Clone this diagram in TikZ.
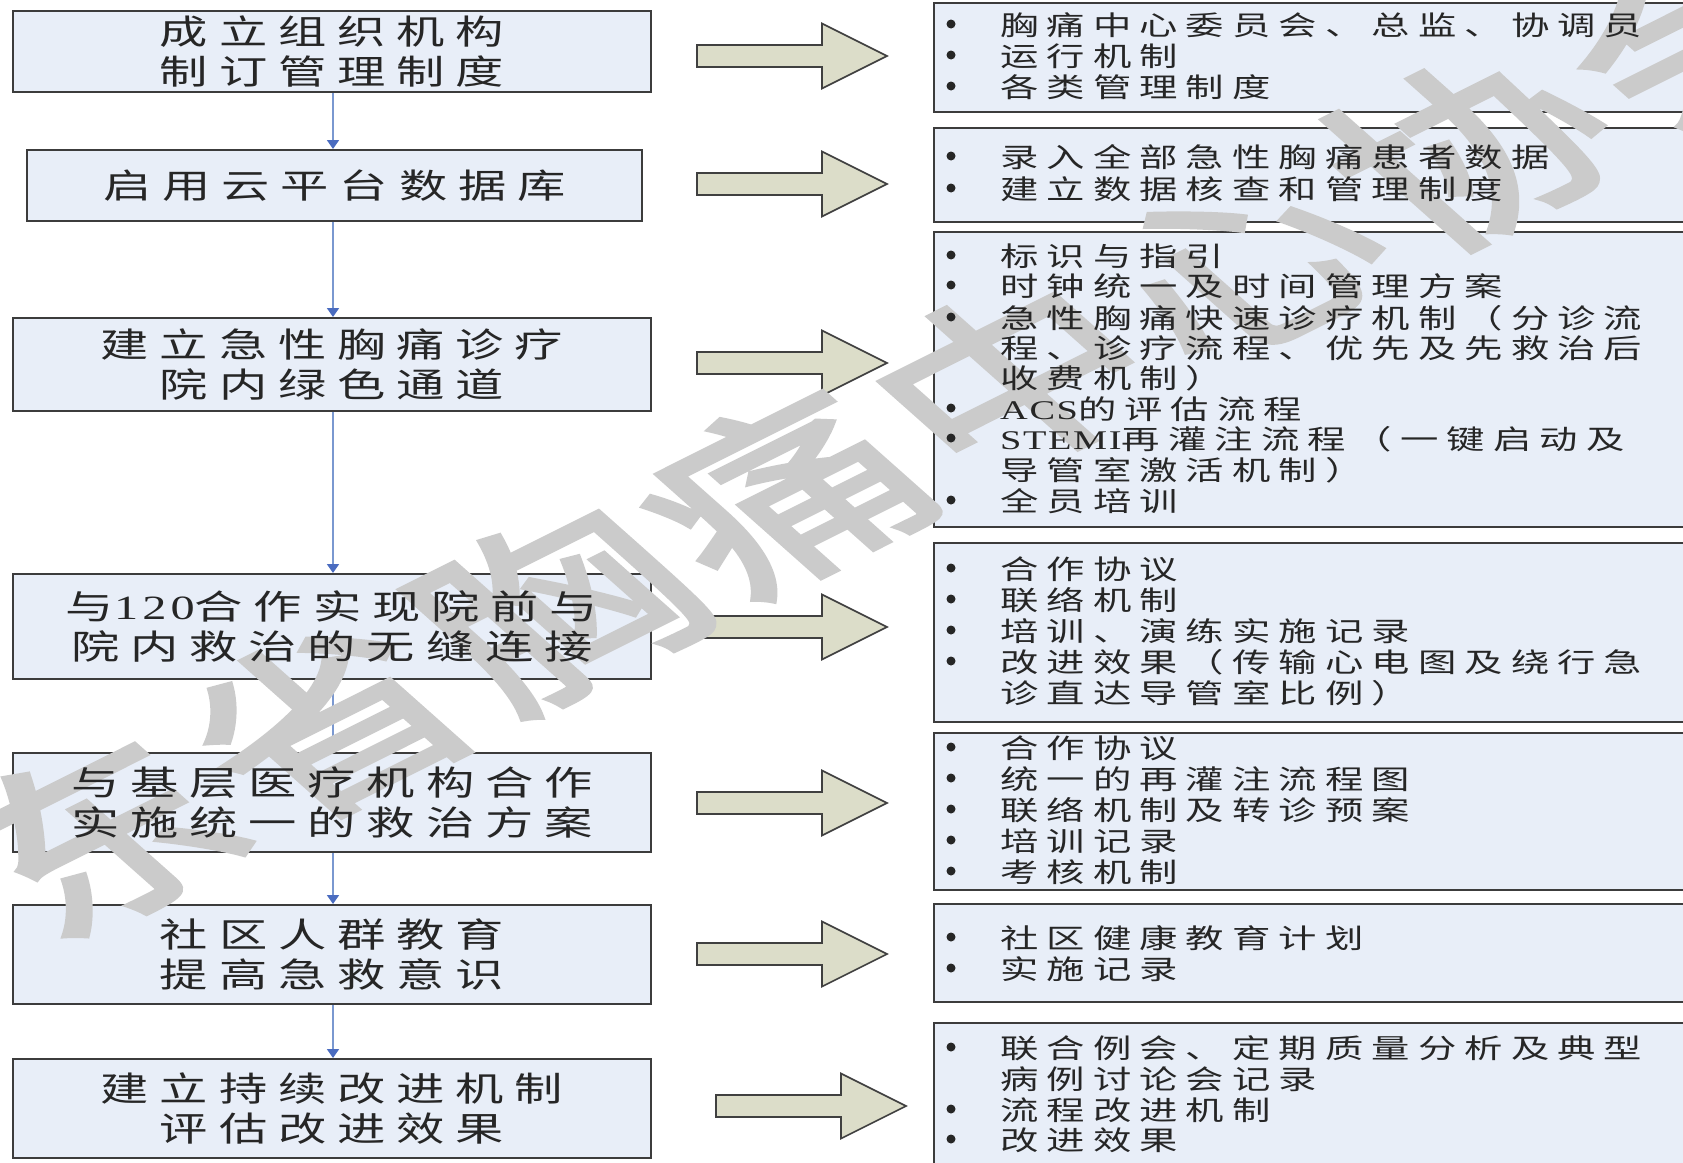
\documentclass[tikz,border=0pt]{standalone}
\usepackage{fontspec}
\usetikzlibrary{arrows.meta}
\setmainfont{Liberation Serif}
\newfontfamily\cjkL[FakeStretch=1.42,LetterSpace=32]{Noto Sans CJK SC}
\newfontfamily\cjkR[FakeStretch=1.42,LetterSpace=30]{Noto Sans CJK SC}
\newfontfamily\latL[FakeStretch=1.42,LetterSpace=12]{Liberation Serif}
\newfontfamily\latR[FakeStretch=1.42,LetterSpace=6]{Liberation Serif}
\newfontfamily\wmfont[LetterSpace=6,FakeBold=2.5]{Noto Sans CJK SC}
\definecolor{boxfill}{HTML}{E8EEF8}
\definecolor{boxdraw}{HTML}{3C3C3C}
\definecolor{arrowfill}{HTML}{DCDDC9}
\definecolor{arrowdraw}{HTML}{404040}
\definecolor{linkblue}{HTML}{7A98D0}
\definecolor{headblue}{HTML}{4A6CC0}
\definecolor{textc}{HTML}{262626}
\definecolor{wmgray}{HTML}{CBCBCB}
\newcommand\blockarrow[2]{%
  \draw[barrow] (#1,#2-11) -- (#1+125,#2-11) -- (#1+125,#2-32.5) -- (#1+190,#2)
    -- (#1+125,#2+32.5) -- (#1+125,#2+11) -- (#1,#2+11) -- cycle;}
\newcommand\rl[4]{%
  \node[rtext] (#1) at (1000,#2+8) {#4};
  \ifnum#3=1 \fill[textc] (951,#2) circle (4.5);\fi}
\begin{document}
\begin{tikzpicture}[x=1pt,y=-1pt,
  lbox/.style={draw=boxdraw, fill=boxfill, line width=2pt, inner sep=0pt},
  ltext/.style={align=center, inner sep=0pt, text=textc,
    font={\fontsize{34}{40}\selectfont\cjkL}},
  rbox/.style={draw=boxdraw, fill=boxfill, line width=2.2pt, anchor=north west,
    minimum width=790pt, inner sep=0pt},
  rtext/.style={anchor=west, inner sep=0pt, text height=0.75em, text depth=0pt,
    text=textc, font={\fontsize{27}{31}\selectfont\cjkR}},
  link/.style={draw=linkblue, line width=1.8pt,
    -{Triangle[width=12pt,length=9pt,color=headblue]}},
  barrow/.style={fill=arrowfill, draw=arrowdraw, line width=1.6pt, line join=miter},
  wm/.style={text=wmgray, inner sep=0pt, rotate=36.9, transform shape,
    font={\fontsize{180}{180}\selectfont\color{wmgray}\wmfont}}]
\useasboundingbox (0,0) rectangle (1683,1162);
\clip (0,0) rectangle (1683,1162);
\fill[white] (0,0) rectangle (1683,1162);

% left column boxes
\node[lbox, minimum width=638pt, minimum height=81pt] (b1) at (332,51.5) {};
\node[lbox, minimum width=615pt, minimum height=71pt] (b2) at (334.5,185.5) {};
\node[lbox, minimum width=638pt, minimum height=93pt] (b3) at (332,364.5) {};
\node[lbox, minimum width=638pt, minimum height=105pt] (b4) at (332,626.5) {};
\node[lbox, minimum width=638pt, minimum height=99pt] (b5) at (332,802.5) {};
\node[lbox, minimum width=638pt, minimum height=99pt] (b6) at (332,954.5) {};
\node[lbox, minimum width=638pt, minimum height=99pt] (b7) at (332,1108.5) {};

\coordinate (cx) at (333,0);
\draw[link] (b1.south -| cx) -- (b2.north -| cx);
\draw[link] (b2.south -| cx) -- (b3.north -| cx);
\draw[link] (b3.south -| cx) -- (b4.north -| cx);
\draw[link] (b4.south -| cx) -- (b5.north -| cx);
\draw[link] (b5.south -| cx) -- (b6.north -| cx);
\draw[link] (b6.south -| cx) -- (b7.north -| cx);

% block arrows
\blockarrow{697}{56}
\blockarrow{697}{184}
\blockarrow{697}{363}
\blockarrow{697}{627}
\blockarrow{697}{803}
\blockarrow{697}{954}
\blockarrow{716}{1106}

% right column boxes
\node[rbox, minimum height=109pt] (R1) at (933,2) {};
\node[rbox, minimum height=94pt] (R2) at (933,127) {};
\node[rbox, minimum height=295pt] (R3) at (933,231) {};
\node[rbox, minimum height=179pt] (R4) at (933,542) {};
\node[rbox, minimum height=157pt] (R5) at (933,732) {};
\node[rbox, minimum height=98pt] (R6) at (933,903) {};
\node[rbox, minimum height=160pt] (R7) at (933,1022) {};

% watermark
\begin{scope}[xscale=1.5]
\node[wm] (wm) at (523,493) {广东省胸痛中心协会};
\end{scope}

% left texts
\node[ltext] (t1) at (b1) {成立组织机构\\制订管理制度};
\node[ltext] (t2) at (b2) {启用云平台数据库};
\node[ltext] (t3) at (b3) {建立急性胸痛诊疗\\院内绿色通道};
\node[ltext] (t4) at (b4) {与{\latL 120}合作实现院前与\\院内救治的无缝连接};
\node[ltext] (t5) at (b5) {与基层医疗机构合作\\实施统一的救治方案};
\node[ltext] (t6) at (b6) {社区人群教育\\提高急救意识};
\node[ltext] (t7) at (b7) {建立持续改进机制\\评估改进效果};

% right texts
\rl{r1a}{24}{1}{胸痛中心委员会、总监、协调员}
\rl{r1b}{55}{1}{运行机制}
\rl{r1c}{86}{1}{各类管理制度}

\rl{r2a}{156}{1}{录入全部急性胸痛患者数据}
\rl{r2b}{188}{1}{建立数据核查和管理制度}

\rl{r3a}{255}{1}{标识与指引}
\rl{r3b}{285}{1}{时钟统一及时间管理方案}
\rl{r3c}{317}{1}{急性胸痛快速诊疗机制（分诊流}
\rl{r3d}{347}{0}{程、诊疗流程、优先及先救治后}
\rl{r3e}{377}{0}{收费机制）}
\rl{r3f}{408}{1}{{\latR ACS}的评估流程}
\rl{r3g}{438}{1}{{\latR STEMI}再灌注流程（一键启动及}
\rl{r3h}{469}{0}{导管室激活机制）}
\rl{r3i}{500}{1}{全员培训}

\rl{r4a}{568}{1}{合作协议}
\rl{r4b}{599}{1}{联络机制}
\rl{r4c}{630}{1}{培训、演练实施记录}
\rl{r4d}{661}{1}{改进效果（传输心电图及绕行急}
\rl{r4e}{692}{0}{诊直达导管室比例）}

\rl{r5a}{747}{1}{合作协议}
\rl{r5b}{778}{1}{统一的再灌注流程图}
\rl{r5c}{809}{1}{联络机制及转诊预案}
\rl{r5d}{840}{1}{培训记录}
\rl{r5e}{871}{1}{考核机制}

\rl{r6a}{937}{1}{社区健康教育计划}
\rl{r6b}{968}{1}{实施记录}

\rl{r7a}{1047}{1}{联合例会、定期质量分析及典型}
\rl{r7b}{1078}{0}{病例讨论会记录}
\rl{r7c}{1109}{1}{流程改进机制}
\rl{r7d}{1139}{1}{改进效果}
\end{tikzpicture}
\end{document}
